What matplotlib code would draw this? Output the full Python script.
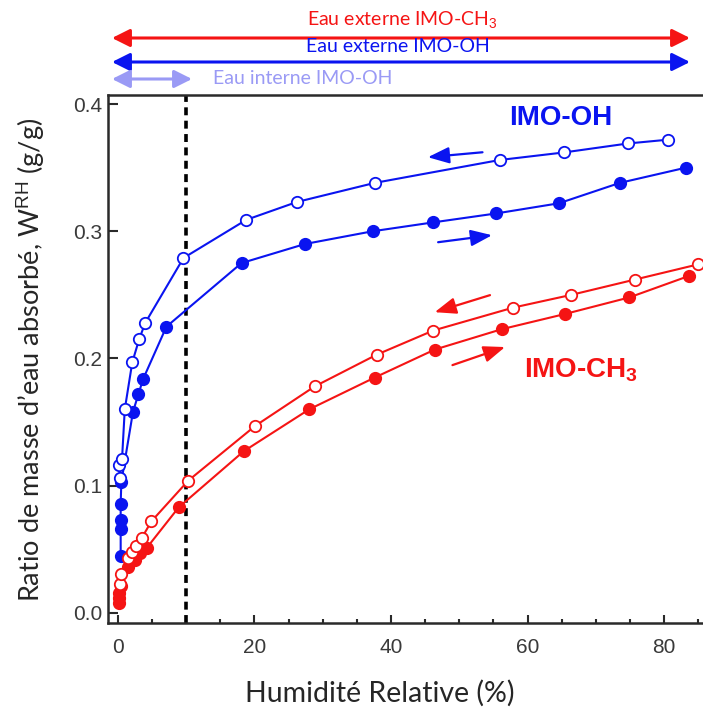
import matplotlib
matplotlib.use("Agg")
import matplotlib.pyplot as plt

plt.rcParams['mathtext.fontset'] = 'custom'
plt.rcParams['mathtext.rm'] = 'Liberation Sans'
plt.rcParams['mathtext.it'] = 'Liberation Sans:italic'
plt.rcParams['mathtext.bf'] = 'Liberation Sans:bold'

# ---------------- data ----------------
oh_ads_rh = [0.4, 0.4, 0.4, 0.4, 0.5, 2.2, 3.0, 3.7, 7.1, 18.1, 27.4, 37.3, 46.2, 55.4, 64.6, 73.5, 83.2]
oh_ads_w = [0.045, 0.066, 0.073, 0.086, 0.103, 0.158, 0.172, 0.184, 0.225, 0.275, 0.290, 0.300, 0.307, 0.314, 0.322, 0.338, 0.350]

oh_des_rh = [0.3, 0.2, 0.6, 1.0, 2.1, 3.1, 4.0, 9.6, 18.8, 26.2, 37.6, 55.9, 65.4, 74.7, 80.6]
oh_des_w = [0.106, 0.116, 0.121, 0.160, 0.197, 0.215, 0.228, 0.279, 0.309, 0.323, 0.338, 0.356, 0.362, 0.369, 0.372]

ch3_ads_rh = [0.1, 0.1, 0.2, 0.4, 1.5, 2.5, 3.3, 4.2, 8.9, 18.4, 28.0, 37.6, 46.4, 56.2, 65.5, 74.9, 83.7]
ch3_ads_w = [0.008, 0.012, 0.016, 0.021, 0.036, 0.042, 0.047, 0.051, 0.083, 0.127, 0.160, 0.185, 0.207, 0.223, 0.235, 0.248, 0.265]

ch3_des_rh = [0.3, 0.5, 1.5, 2.0, 2.7, 3.5, 4.9, 10.3, 20.1, 28.8, 37.9, 46.2, 57.9, 66.4, 75.7, 85.0]
ch3_des_w = [0.023, 0.031, 0.043, 0.048, 0.053, 0.059, 0.072, 0.104, 0.147, 0.178, 0.203, 0.222, 0.240, 0.250, 0.262, 0.274]

x_ticks = [0, 20, 40, 60, 80]
y_ticks = [0.0, 0.1, 0.2, 0.3, 0.4]
y_ticklabels = ["0.0", "0.1", "0.2", "0.3", "0.4"]

BLUE = '#0a14f0'
RED = '#f51414'
LIGHT = '#9a9af5'

W, H = 703, 709
fig = plt.figure(figsize=(W / 100, H / 100), dpi=100)
ax = fig.add_axes([107.7 / W, (H - 623) / H, 1 - 107.7 / W, (623 - 94.5) / H])

ax.set_xlim(-1.5, 85.7)
ax.set_ylim(-0.0079, 0.4075)

lw = 1.5
ms = 8.2
mew = 1.3
ax.plot(oh_ads_rh, oh_ads_w, '-o', color=BLUE, lw=lw, ms=ms, mfc=BLUE, mec=BLUE, mew=mew, zorder=3)
ax.plot(oh_des_rh, oh_des_w, '-o', color=BLUE, lw=lw, ms=ms, mfc='white', mec=BLUE, mew=mew, zorder=3)
ax.plot(ch3_ads_rh, ch3_ads_w, '-o', color=RED, lw=lw, ms=ms, mfc=RED, mec=RED, mew=mew, zorder=3)
ax.plot(ch3_des_rh, ch3_des_w, '-o', color=RED, lw=lw, ms=ms, mfc='white', mec=RED, mew=mew, zorder=3)

ax.axvline(10, color='black', lw=2.6, dashes=(2.2, 1.5), zorder=2)

# direction arrows
def arr(tail, head, color):
    ax.annotate('', xy=head, xytext=tail, xycoords='data',
                arrowprops=dict(arrowstyle='-|>,head_length=0.65,head_width=0.25',
                                mutation_scale=20, lw=1.6, color=color,
                                shrinkA=0, shrinkB=0), zorder=4)

arr((53.4, 0.3621), (45.4, 0.3582), BLUE)
arr((46.9, 0.2914), (54.8, 0.2969), BLUE)
arr((54.5, 0.2498), (46.4, 0.2364), RED)
arr((49.0, 0.1948), (56.7, 0.2090), RED)

ax.annotate('IMO-OH', xy=((561 - 118) / 6.83, (613 - 118) / 1273), ha='center', va='center',
            fontsize=20, fontweight='bold', color=BLUE, family='Liberation Sans')
ax.annotate(r'IMO-CH$_\mathbf{3}$', xy=((581 - 118) / 6.83, (613 - 370) / 1273), ha='center', va='center',
            fontsize=20, fontweight='bold', color=RED, family='Liberation Sans')

# axes styling
for s in ['left', 'bottom', 'top']:
    ax.spines[s].set_linewidth(1.8)
    ax.spines[s].set_color('#2a2a2a')
ax.spines['right'].set_visible(False)

ax.set_xticks(x_ticks)
ax.set_xticks(range(5, 86, 5), minor=True)
ax.set_yticks(y_ticks)
ax.set_yticklabels(y_ticklabels)
ax.tick_params(axis='both', which='both', direction='in', color='#2a2a2a', width=1.5,
               labelcolor='#3a3a3a', labelsize=15, top=False, right=False)
ax.tick_params(axis='y', which='major', length=7, pad=4)
ax.tick_params(axis='x', which='major', length=6, pad=11)
ax.tick_params(axis='x', which='minor', length=3)
for lab in ax.get_xticklabels() + ax.get_yticklabels():
    lab.set_family('Liberation Sans')

# axis labels
fig.text(380 / W, (H - 693) / H, 'Humidité Relative (%)', ha='center', va='center',
         fontsize=20.5, family='Lato', color='#262626')
fig.text(31 / W, (H - 360) / H, r'Ratio de masse d’eau absorbé, W$^{\mathrm{RH}}$ (g/g)',
         ha='center', va='center', rotation=90, fontsize=19.5, family='Lato', color='#262626')

# top arrows
def top_arrow(x0, x1, y, color, lw_):
    fig.add_artist(plt.matplotlib.patches.FancyArrowPatch(
        (x0 / W, (H - y) / H), (x1 / W, (H - y) / H), transform=fig.transFigure,
        arrowstyle='<|-|>,head_length=0.6,head_width=0.3', mutation_scale=18,
        lw=lw_, color=color, shrinkA=0, shrinkB=0))

top_arrow(112, 690, 38, RED, 2.2)
top_arrow(112, 690, 62, BLUE, 2.2)
top_arrow(112, 192, 79, LIGHT, 2.2)

fig.text(402 / W, (H - 19) / H, r'Eau externe IMO-CH$_3$', ha='center', va='center',
         fontsize=14, family='Lato', color=RED)
fig.text(398 / W, (H - 47) / H, 'Eau externe IMO-OH', ha='center', va='center',
         fontsize=14, family='Lato', color=BLUE)
fig.text(213 / W, (H - 78) / H, 'Eau interne IMO-OH', ha='left', va='center',
         fontsize=14, family='Lato', color=LIGHT)

fig.savefig('out.png', dpi=100)
